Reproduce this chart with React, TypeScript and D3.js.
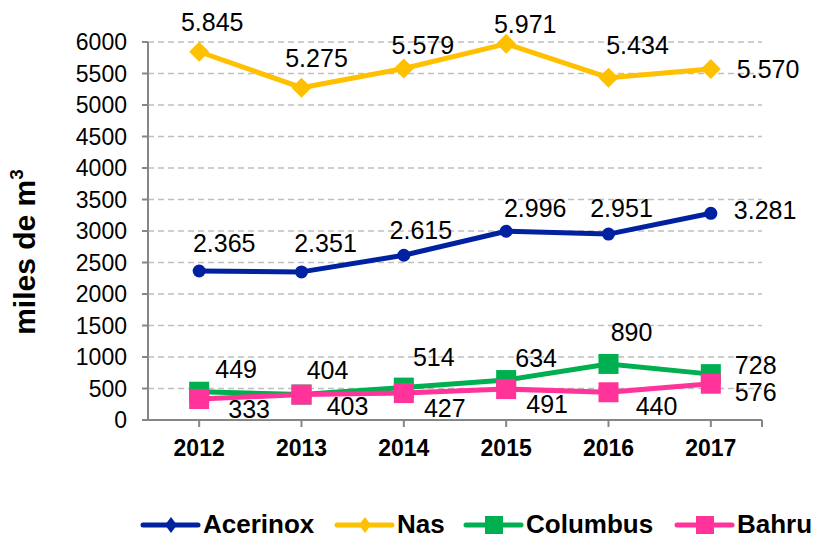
import React from "react";
import * as d3 from "d3";

const years = ["2012", "2013", "2014", "2015", "2016", "2017"];
const acerinox = [2365, 2351, 2615, 2996, 2951, 3281];
const nas = [5845, 5275, 5579, 5971, 5434, 5570];
const columbus = [449, 404, 514, 634, 890, 728];
const bahru = [333, 403, 427, 491, 440, 576];
const yTicks = [0, 500, 1000, 1500, 2000, 2500, 3000, 3500, 4000, 4500, 5000, 5500, 6000];

// label nudges (dx from point, dy to baseline), "s" = start-anchored to the right
const acerinoxLbl = [[25, -19], [24, -20], [17, -16], [29, -14], [13, -17], [23, 6, "s"]];
const nasLbl = [[13, -21], [15, -21], [19, -15], [19, -11], [29, -24], [26, 9, "s"]];
const columbusLbl = [[37, -14], [26, -16], [30, -22], [30, -13], [23, -23], [24, 0, "s"]];
const bahruLbl = [[50, 19], [46, 20], [41, 24], [41, 24], [48, 23], [24, 17, "s"]];

const fmt = (v: number) =>
  v >= 1000 ? d3.format(".3f")(v / 1000) : String(v);

const W = 813;
const H = 537;
const left = 148;
const right = 762;
const top = 42;
const bottom = 420;

const series = [
  { name: "Acerinox", values: acerinox, color: "#0021A0", marker: "circle", lbl: acerinoxLbl },
  { name: "Nas", values: nas, color: "#FFC000", marker: "diamond", lbl: nasLbl },
  { name: "Columbus", values: columbus, color: "#00B050", marker: "square", lbl: columbusLbl },
  { name: "Bahru", values: bahru, color: "#FF3399", marker: "square", lbl: bahruLbl },
];

const legendX = [143, 337, 466, 677];

const font = "Arial, 'Liberation Sans', sans-serif";

const Marker = ({ type, x, y, color, legend }: any) => {
  if (type === "circle") return <circle cx={x} cy={y} r={6.5} fill={color} />;
  if (type === "diamond") {
    const hw = legend ? 6 : 10;
    const hh = legend ? 8 : 10;
    return (
      <path
        d={`M${x},${y - hh}L${x + hw},${y}L${x},${y + hh}L${x - hw},${y}Z`}
        fill={color}
      />
    );
  }
  const s = legend ? 18 : 20;
  return <rect x={x - s / 2} y={y - s / 2} width={s} height={s} fill={color} />;
};

export default function App() {
  const x = d3.scaleBand().domain(years).range([left, right]);
  const y = d3.scaleLinear().domain([0, 6000]).range([bottom, top]);
  const cx = (yr: string) => (x(yr) as number) + x.bandwidth() / 2;

  const line = d3
    .line<number>()
    .x((_, i) => cx(years[i]))
    .y((d) => y(d));

  return (
    <svg
      width={W}
      height={H}
      style={{ position: "absolute", left: 0, top: 0, background: "#fff" }}
      fontFamily={font}
    >
      {/* grid */}
      {yTicks.map((t) => (
        <g key={t}>
          {t > 0 && (
            <line
              x1={left}
              x2={right}
              y1={y(t)}
              y2={y(t)}
              stroke="#BFBFBF"
              strokeWidth={1.5}
              strokeDasharray="6,4"
            />
          )}
          <line x1={142} x2={left} y1={y(t)} y2={y(t)} stroke="#868686" strokeWidth={2} />
          <text
            x={127}
            y={y(t)}
            dy="0.36em"
            textAnchor="end"
            fontSize={23}
            fill="#000"
          >
            {t}
          </text>
        </g>
      ))}

      {/* axes */}
      <line x1={left} x2={left} y1={top} y2={bottom} stroke="#868686" strokeWidth={2} />
      <line x1={142} x2={right} y1={bottom} y2={bottom} stroke="#868686" strokeWidth={2} />
      {years.map((yr) => (
        <line
          key={yr}
          x1={cx(yr)}
          x2={cx(yr)}
          y1={bottom}
          y2={bottom + 7}
          stroke="#868686"
          strokeWidth={2}
        />
      ))}
      <line x1={right} x2={right} y1={bottom} y2={bottom + 7} stroke="#868686" strokeWidth={2} />
      {years.map((yr) => (
        <text
          key={yr}
          x={cx(yr)}
          y={456}
          textAnchor="middle"
          fontSize={23}
          fontWeight="bold"
        >
          {yr}
        </text>
      ))}

      {/* y title */}
      <text
        transform="translate(35,252) rotate(-90)"
        textAnchor="middle"
        fontSize={30}
        fontWeight="bold"
      >
        miles de m
        <tspan fontSize={19} dy={-12}>
          3
        </tspan>
      </text>

      {/* series */}
      {series.map((s) => (
        <g key={s.name}>
          <path
            d={line(s.values) as string}
            fill="none"
            stroke={s.color}
            strokeWidth={5}
            strokeLinejoin="round"
          />
          {s.values.map((v, i) => (
            <Marker key={i} type={s.marker} x={cx(years[i])} y={y(v)} color={s.color} />
          ))}
        </g>
      ))}

      {/* data labels */}
      {series.map((s) =>
        s.values.map((v, i) => {
          const [dx, dy, a] = s.lbl[i] as any;
          return (
            <text
              key={s.name + i}
              x={cx(years[i]) + dx}
              y={y(v) + dy}
              textAnchor={a === "s" ? "start" : "middle"}
              fontSize={25}
              fill="#000"
            >
              {fmt(v)}
            </text>
          );
        })
      )}

      {/* legend */}
      {series.map((s, i) => {
        const lx = legendX[i];
        return (
          <g key={s.name}>
            <line
              x1={lx}
              x2={lx + 55}
              y1={525}
              y2={525}
              stroke={s.color}
              strokeWidth={5}
              strokeLinecap="round"
            />
            <Marker
              type={s.marker === "circle" ? "diamond" : s.marker}
              x={lx + 28}
              y={525}
              color={s.color}
              legend
            />
            <text x={lx + 60} y={533} fontSize={26} fontWeight="bold">
              {s.name}
            </text>
          </g>
        );
      })}
    </svg>
  );
}
